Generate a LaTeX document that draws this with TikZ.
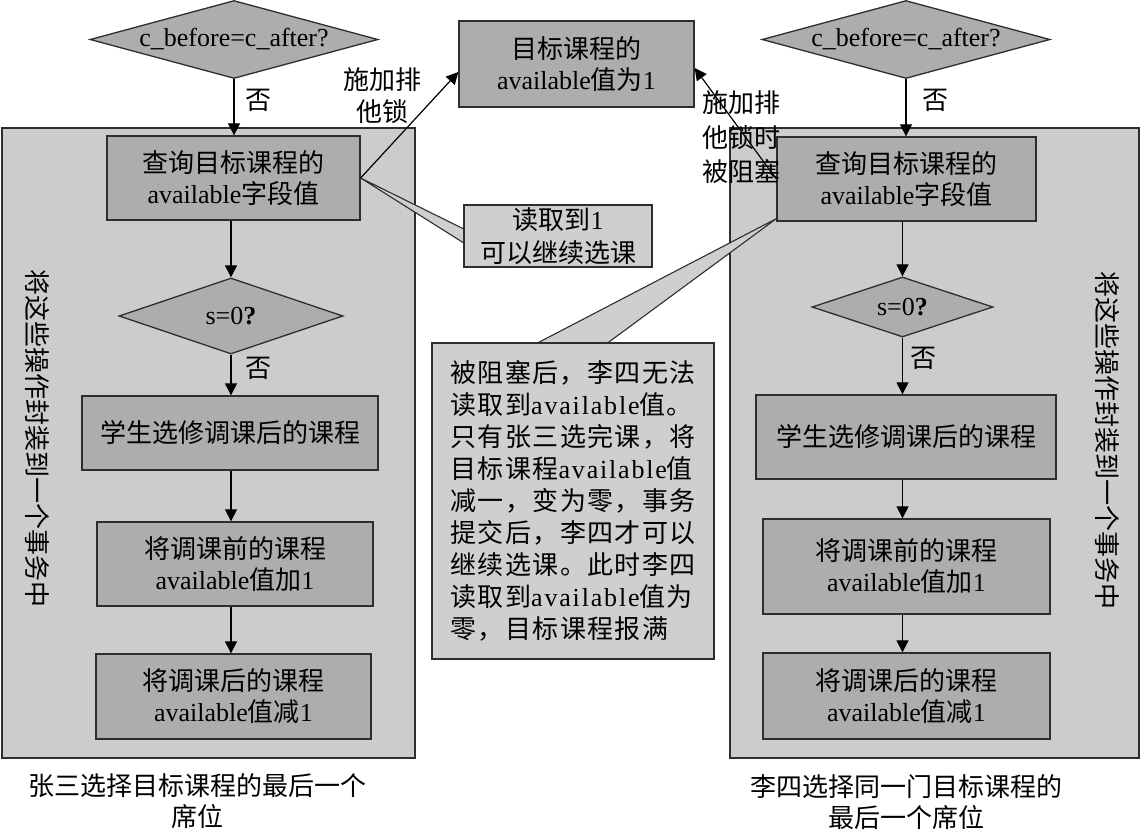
\documentclass[tikz,border=0pt]{standalone}
\usepackage{fontspec}
\setmainfont{Liberation Serif}
\newfontfamily\cjk{Noto Sans CJK SC}
\newfontfamily\cjkwide[LetterSpace=5.4]{Noto Sans CJK SC}
\newfontfamily\serifwide[LetterSpace=7]{Liberation Serif}
\usetikzlibrary{shapes.geometric,arrows.meta,calc}
\newcommand\zh[1]{{\cjk #1}}
\newcommand\zhw[1]{{\cjkwide #1}}
\newcommand\enw[1]{{\serifwide #1}}
\definecolor{panelgray}{gray}{0.80}
\definecolor{boxgray}{gray}{0.68}
\definecolor{notegray}{gray}{0.81}
\definecolor{edgegray}{gray}{0.18}

\begin{document}
\begin{tikzpicture}[x=1pt,y=-1pt,
  every node/.style={font=\fontsize{26pt}{31pt}\selectfont, inner sep=0pt},
  panel/.style={draw=edgegray, fill=panelgray, line width=1.3pt},
  stepbox/.style={draw=edgegray, fill=boxgray, line width=1.3pt, align=center},
  decision/.style={shape=diamond, draw=edgegray, fill=boxgray, line width=1.3pt},
  note/.style={draw=edgegray, fill=notegray, line width=1.3pt, align=center},
  wedge/.style={draw=edgegray, fill=notegray, line width=1.1pt, line join=miter},
  arr/.style={-{Triangle[length=12pt,width=12pt]}, line width=1.2pt, draw=black},
  label/.style={align=center}]

\useasboundingbox (0,0) rectangle (1141,830);

% transaction panels
\node[panel, minimum width=413pt, minimum height=630pt] (L) at (208.5,443) {};
\node[panel, minimum width=409pt, minimum height=630pt] (R) at (934.5,443) {};

% call-out pointers
\node[stepbox, minimum width=253pt, minimum height=84pt] (q1) at (233.5,178) {};
\node[stepbox, minimum width=259pt, minimum height=84pt] (q2) at (906.5,179) {};
\node[minimum width=188pt, minimum height=62pt] (c1) at (558,236) {};
\node[minimum width=282pt, minimum height=316pt] (c2) at (573,501) {};
\draw[wedge] (q1.east) -- ($(c1.west)+(0,-7)$) -- ($(c1.west)+(0,7)$) -- cycle;
\draw[wedge] ($(q2.south west)+(0,-3)$) -- ($(c2.north west)+(176,0)$) -- ($(c2.north west)+(106,0)$) -- cycle;

% left column
\node[decision, minimum width=288pt, minimum height=78pt] (d1) at (234,39.5) {};
\node at (d1) {c\_before=c\_after?};
\node[stepbox, minimum width=253pt, minimum height=84pt] at (q1) {\zh{查询目标课程的}\\available\zh{字段值}};
\node[decision, minimum width=224pt, minimum height=76pt] (s1) at (231,316) {};
\node at (s1) {s=0\textbf{?}};
\node[stepbox, minimum width=296pt, minimum height=74pt] (b1) at (230,433) {\zh{学生选修调课后的课程}};
\node[stepbox, minimum width=276pt, minimum height=84pt] (b2) at (235,564) {\zh{将调课前的课程}\\available\zh{值加}1};
\node[stepbox, minimum width=275pt, minimum height=85pt] (b3) at (233.5,696.5) {\zh{将调课后的课程}\\available\zh{值减}1};

% right column
\node[decision, minimum width=288pt, minimum height=78pt] (d2) at (906,39.5) {};
\node at (d2) {c\_before=c\_after?};
\node[stepbox, minimum width=259pt, minimum height=84pt] at (q2) {\zh{查询目标课程的}\\available\zh{字段值}};
\node[decision, minimum width=181pt, minimum height=60pt] (s2) at (902.5,307) {};
\node at (s2) {s=0\textbf{?}};
\node[stepbox, minimum width=300pt, minimum height=84pt] (b4) at (906,437) {\zh{学生选修调课后的课程}};
\node[stepbox, minimum width=287pt, minimum height=95pt] (b5) at (906.5,566.5) {\zh{将调课前的课程}\\available\zh{值加}1};
\node[stepbox, minimum width=287pt, minimum height=86pt] (b6) at (906.5,696) {\zh{将调课后的课程}\\available\zh{值减}1};

% shared record
\node[stepbox, minimum width=235pt, minimum height=86pt] (tb) at (576.5,64) {\zh{目标课程的}\\available\zh{值为}1};

% notes
\node[note, minimum width=188pt, minimum height=62pt, font=\fontsize{26pt}{33pt}\selectfont] at (c1) {\zh{读取到}1\\\zh{可以继续选课}};
\node[note, minimum width=282pt, minimum height=316pt] at (c2) {};
\node[align=left, font=\fontsize{26pt}{32pt}\selectfont] at (c2) {%
\zhw{被阻塞后，李四无法}\\
\zhw{读取到}\enw{available}\zhw{值。}\\
\zhw{只有张三选完课，将}\\
\zhw{目标课程}\enw{available}\zhw{值}\\
\zhw{减一，变为零，事务}\\
\zhw{提交后，李四才可以}\\
\zhw{继续选课。此时李四}\\
\zhw{读取到}\enw{available}\zhw{值为}\\
\zhw{零，目标课程报满}};

% flow arrows, left
\draw[arr] (d1.south) -- (d1.south |- q1.north);
\draw[arr] (s1.north |- q1.south) -- (s1.north);
\draw[arr] (s1.south) -- (s1.south |- b1.north);
\draw[arr] (b1.south -| s1.south) -- (s1.south |- b2.north);
\draw[arr] (b2.south -| s1.south) -- (s1.south |- b3.north);

% flow arrows, right
\draw[arr] (d2.south) -- (d2.south |- q2.north);
\draw[arr] (s2.north |- q2.south) -- (s2.north);
\draw[arr] (s2.south) -- (s2.south |- b4.north);
\draw[arr] (b4.south -| s2.south) -- (s2.south |- b5.north);
\draw[arr] (b5.south -| s2.south) -- (s2.south |- b6.north);

% lock requests
\draw[arr] (q1.east) -- ($(tb.west)+(0,8)$);
\draw[arr] (q2.west) -- ($(tb.east)+(0,4)$);

% labels
\node (n1) at (258,100) {\zh{否}};
\node (n2) at (258,368) {\zh{否}};
\node (n3) at (935,100) {\zh{否}};
\node (n4) at (923,358) {\zh{否}};
\node[label, font=\fontsize{26pt}{32pt}\selectfont] (lk1) at (382,96) {\zh{施加排}\\\zh{他锁}};
\node[align=left, anchor=west, font=\fontsize{26pt}{34.5pt}\selectfont] (lk2) at (702,137.5) {\zh{施加排}\\\zh{他锁时}\\\zh{被阻塞}};
\node[rotate=-90] (vt1) at (37,438) {\zh{将这些操作封装到一个事务中}};
\node[rotate=-90] (vt2) at (1107,440) {\zh{将这些操作封装到一个事务中}};
\node[label] (cap1) at (197,801) {\zh{张三选择目标课程的最后一个}\\\zh{席位}};
\node[label] (cap2) at (906,802) {\zh{李四选择同一门目标课程的}\\\zh{最后一个席位}};
\end{tikzpicture}
\end{document}
